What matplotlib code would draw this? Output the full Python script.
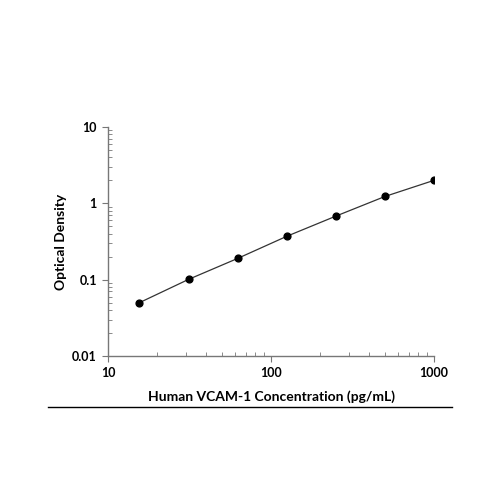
import numpy as np
import matplotlib.pyplot as plt
from matplotlib.lines import Line2D
from matplotlib.ticker import LogLocator, FixedLocator, NullFormatter

# standard curve
conc = [15.6, 31.25, 62.5, 125, 250, 500, 1000]
od = [0.050, 0.101, 0.19, 0.37, 0.68, 1.23, 2.0]

xticks = [10, 100, 1000]
xtick_labels = ["10", "100", "1000"]
yticks = [0.01, 0.1, 1, 10]
ytick_labels = ["0.01", "0.1", "1", "10"]

plt.rcParams['font.family'] = ['Lato', 'DejaVu Sans']

fig = plt.figure(figsize=(5, 5), dpi=100)
ax = fig.add_axes([0.216, 0.288, 0.652, 0.458])

ax.plot(conc, od, color="#333333", lw=0.9, zorder=2)
ax.scatter(conc, od, s=24, color="black", zorder=3)

ax.set_xscale("log")
ax.set_yscale("log")
ax.set_xlim(10, 1000)
ax.set_ylim(0.01, 10)

ax.xaxis.set_major_locator(FixedLocator(xticks))
ax.set_xticklabels(xtick_labels)
ax.yaxis.set_major_locator(FixedLocator(yticks))
ax.set_yticklabels(ytick_labels)
ax.xaxis.set_minor_locator(LogLocator(base=10, subs=np.arange(2, 10)))
ax.yaxis.set_minor_locator(LogLocator(base=10, subs=np.arange(2, 10)))
ax.xaxis.set_minor_formatter(NullFormatter())
ax.yaxis.set_minor_formatter(NullFormatter())

for s in ["top", "right"]:
    ax.spines[s].set_visible(False)
for s in ["left", "bottom"]:
    ax.spines[s].set_color("#777777")
    ax.spines[s].set_linewidth(1.0)

ax.tick_params(which="major", direction="out", length=4, width=0.8,
               color="#777777", labelsize=9, pad=4)
ax.tick_params(which="minor", direction="in", length=3, width=0.6,
               color="#777777")
for lbl in ax.get_xticklabels() + ax.get_yticklabels():
    lbl.set_fontweight("bold")

ax.set_xlabel("Human VCAM-1 Concentration (pg/mL)", fontsize=10,
              fontweight="bold", labelpad=8)
ax.set_ylabel("Optical Density", fontsize=10, fontweight="bold", labelpad=4)

# rule under the chart
fig.add_artist(Line2D([0.096, 0.904], [0.186, 0.186], color="black", lw=1.0,
                      transform=fig.transFigure))

fig.savefig("out.png", dpi=100)
